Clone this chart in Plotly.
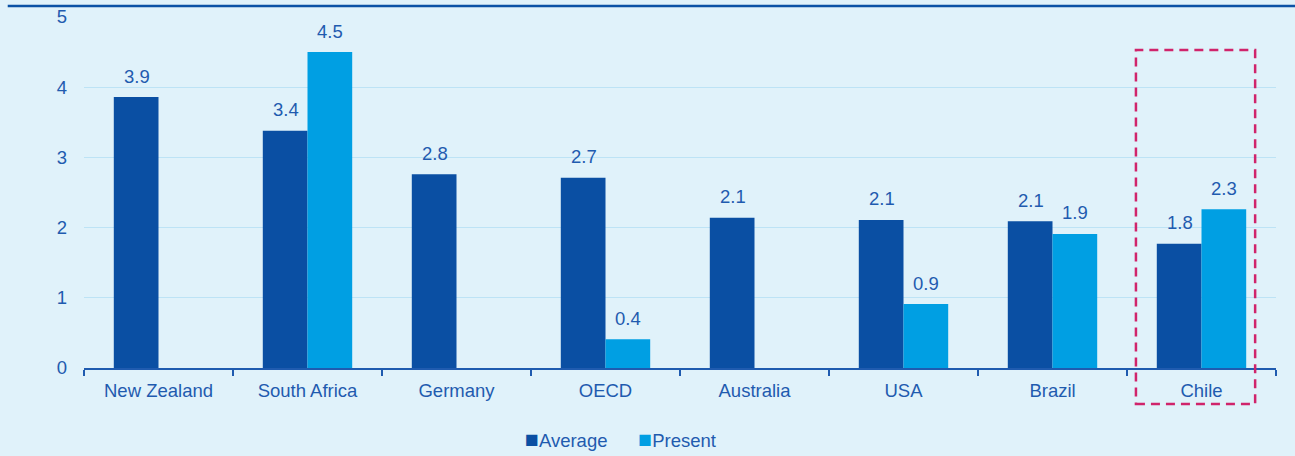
import plotly.graph_objects as go

categories = ["New Zealand", "South Africa", "Germany", "OECD", "Australia", "USA", "Brazil", "Chile"]
average = [3.86, 3.38, 2.76, 2.71, 2.14, 2.11, 2.09, 1.77]
present = [None, 4.50, None, 0.41, None, 0.91, 1.91, 2.26]
y_ticks = [0, 1, 2, 3, 4, 5]
series_names = ["Average", "Present"]

DARK = "#0A4FA3"
LIGHT = "#009FE3"
TXT = "#1F5BAF"
BG = "#E0F2FA"
FONT = "Liberation Sans, Arial"
FS = 18.5

fig = go.Figure()
fig.add_trace(go.Bar(name=series_names[0], x=categories, y=average, marker_color=DARK,
                     marker_line_width=0, hoverinfo="skip"))
fig.add_trace(go.Bar(name=series_names[1], x=categories, y=present, marker_color=LIGHT,
                     marker_line_width=0, hoverinfo="skip"))

# value labels above bars
annotations = []
for series, shift in ((average, -22), (present, 22)):
    for c, v in zip(categories, series):
        if v is None:
            continue
        annotations.append(dict(x=c, y=v, xref="x", yref="y", text=f"{v:.1f}",
                                showarrow=False, xshift=shift, yshift=21,
                                font=dict(size=FS, color=TXT, family=FONT)))

# custom legend (real text)
sq = "font-size:23px"
legend_text = (f"<span style='color:{DARK};{sq}'>■</span>{series_names[0]}"
               f"&nbsp;&nbsp;&nbsp;&nbsp;&nbsp;&nbsp;"
               f"<span style='color:{LIGHT};{sq}'>■</span>{series_names[1]}")
annotations.append(dict(x=0.4505, y=-0.202, xref="paper", yref="paper", text=legend_text,
                        showarrow=False, xanchor="center", yanchor="middle",
                        font=dict(size=FS, color=TXT, family=FONT)))

chile_idx = categories.index("Chile")
n = len(categories)
PH = 351.0

fig.update_layout(
    width=1295, height=456,
    margin=dict(l=84, r=19, t=17, b=88, autoexpand=False),
    paper_bgcolor=BG, plot_bgcolor=BG,
    barmode="group", bargap=0.4, bargroupgap=0,
    font=dict(family=FONT, size=FS, color=TXT),
    showlegend=False,
    annotations=annotations,
    xaxis=dict(showgrid=False, showline=True, linecolor=TXT, linewidth=2, automargin=False,
               ticks="outside", tickson="boundaries", ticklen=6, tickcolor=TXT, tickwidth=2,
               ticklabelstandoff=5, tickfont=dict(size=FS, color=TXT)),
    yaxis=dict(range=[0, 5], tickvals=y_ticks, showgrid=True, gridcolor="#BDE3F5", gridwidth=1,
               zeroline=False, showline=False, ticks="", ticklabelstandoff=16, automargin=False,
               tickfont=dict(size=FS, color=TXT)),
    shapes=[
        dict(type="line", xref="paper", yref="paper", x0=-0.064, x1=1.016,
             y0=1 + 11 / PH, y1=1 + 11 / PH, line=dict(color="#0B52A5", width=2.5)),
        dict(type="rect", xref="paper", yref="paper",
             x0=(chile_idx + 0.5 - 0.44) / n, x1=(chile_idx + 0.5 + 0.36) / n,
             y0=-36 / PH, y1=318 / PH,
             line=dict(color="#D0246B", width=2.5, dash="9px,6px")),
    ],
)

fig.write_html("out.html", config={"displayModeBar": False},
               post_script="document.body.style.margin='0';document.body.style.overflow='hidden';")
